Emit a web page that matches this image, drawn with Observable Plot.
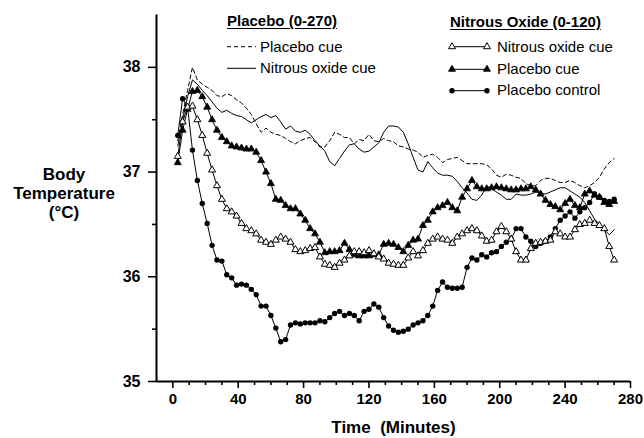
<!DOCTYPE html>
<html>
<head>
<meta charset="utf-8">
<script src="https://cdn.jsdelivr.net/npm/d3@7"></script>
<script src="https://cdn.jsdelivr.net/npm/@observablehq/plot@0.6"></script>
<style>
  html, body { margin: 0; padding: 0; background: #fff; }
  #wrap { position: relative; width: 644px; height: 438px; font-family: "Liberation Sans", Arial, Helvetica, sans-serif; color: #000; overflow: hidden; }
  #chart svg { display: block; }
  #chart g[aria-label="x-axis label"] text { font-size: 17px; white-space: pre; }
  .abs { position: absolute; white-space: nowrap; }
  .ylab { left: 4px; top: 164.6px; width: 120px; text-align: center; font-weight: bold; font-size: 17px; line-height: 19px; }
  .ttl { font-weight: bold; font-size: 15px; line-height: 18px; text-decoration: underline; text-underline-offset: 2px; }
  .ent { font-size: 15px; line-height: 18px; }
  #legsym { position: absolute; left: 0; top: 0; pointer-events: none; }
</style>
</head>
<body>
<div id="wrap">
  <div id="chart"></div>
  <div class="abs ylab">Body<br>Temperature<br>(°C)</div>
  <div class="abs ttl" style="left:227px;top:11.8px;">Placebo (0-270)</div>
  <div class="abs ent" style="left:260px;top:37.5px;">Placebo cue</div>
  <div class="abs ent" style="left:260px;top:58.8px;">Nitrous oxide cue</div>
  <div class="abs ttl" style="left:450px;top:12.5px;">Nitrous Oxide (0-120)</div>
  <div class="abs ent" style="left:497px;top:37.5px;">Nitrous oxide cue</div>
  <div class="abs ent" style="left:497px;top:59.8px;">Placebo cue</div>
  <div class="abs ent" style="left:497px;top:80.8px;">Placebo control</div>
  <svg id="legsym" width="644" height="438"></svg>
</div>
<script>
// ---- Data ----
const times = [3,6,9,12,15,18,21,24,27,30,33,36,39,42,45,48,51,54,57,60,63,66,69,72,75,78,81,84,87,90,93,96,99,102,105,108,111,114,117,120,123,126,129,132,135,138,141,144,147,150,153,156,159,162,165,168,171,174,177,180,183,186,189,192,195,198,201,204,207,210,213,216,219,222,225,228,231,234,237,240,243,246,249,252,255,258,261,264,267,270];

// Placebo (0-270): placebo cue (dashed line)
const placeboPlaceboCue = [
  37.30,37.55,37.78,38.00,37.88,37.84,37.81,37.78,37.73,37.72,
  37.75,37.73,37.69,37.66,37.61,37.55,37.46,37.38,37.42,37.38,
  37.36,37.35,37.32,37.29,37.27,37.30,37.32,37.33,37.29,37.24,
  37.24,37.30,37.38,37.36,37.33,37.33,37.27,37.31,37.30,37.36,
  37.30,37.29,37.32,37.30,37.29,37.25,37.24,37.22,37.21,37.19,
  37.14,37.16,37.17,37.14,37.09,37.12,37.13,37.14,37.11,37.08,
  37.08,37.08,37.08,37.07,37.03,36.97,36.95,36.98,36.97,36.95,
  36.94,36.89,36.87,36.87,36.92,36.94,36.94,36.92,36.90,36.90,
  36.92,36.90,36.87,36.85,36.87,36.90,36.95,37.03,37.09,37.13];

// Placebo (0-270): nitrous oxide cue (solid line)
const placeboNitrousCue = [
  37.25,37.50,37.72,37.88,37.84,37.78,37.73,37.67,37.61,37.57,
  37.59,37.56,37.54,37.53,37.50,37.47,37.50,37.53,37.55,37.52,
  37.54,37.48,37.41,37.44,37.39,37.38,37.40,37.36,37.30,37.25,
  37.20,37.10,37.06,37.13,37.20,37.26,37.27,37.22,37.19,37.20,
  37.24,37.28,37.38,37.44,37.44,37.43,37.38,37.27,37.14,37.02,
  37.00,37.10,37.04,36.99,36.97,36.97,36.96,36.91,36.85,36.80,
  36.74,36.73,36.78,36.87,36.84,36.81,36.78,36.74,36.74,36.79,
  36.78,36.78,36.79,36.81,36.80,36.79,36.81,36.83,36.85,36.85,
  36.82,36.79,36.76,36.71,36.63,36.55,36.50,36.45,36.40,36.45];

// Nitrous Oxide (0-120): nitrous oxide cue (open triangles)
const n2oNitrousCue = [
  37.15,37.48,37.62,37.63,37.50,37.35,37.18,37.02,36.87,36.74,
  36.65,36.62,36.58,36.51,36.46,36.44,36.41,36.35,36.33,36.31,
  36.35,36.38,36.36,36.33,36.26,36.24,36.25,36.27,36.28,36.19,
  36.12,36.11,36.09,36.13,36.16,36.20,36.24,36.24,36.23,36.25,
  36.22,36.19,36.17,36.13,36.12,36.11,36.11,36.18,36.24,36.20,
  36.25,36.32,36.36,36.38,36.36,36.35,36.32,36.38,36.41,36.44,
  36.46,36.44,36.39,36.34,36.35,36.43,36.48,36.43,36.36,36.24,
  36.16,36.16,36.27,36.32,36.33,36.34,36.35,36.43,36.41,36.38,
  36.38,36.45,36.50,36.51,36.54,36.51,36.49,36.46,36.29,36.16];

// Nitrous Oxide (0-120): placebo cue (filled triangles)
const n2oPlaceboCue = [
  37.09,37.40,37.60,37.77,37.78,37.72,37.62,37.50,37.40,37.33,
  37.29,37.25,37.24,37.23,37.22,37.22,37.19,37.11,37.00,36.89,
  36.74,36.73,36.68,36.65,36.65,36.60,36.54,36.46,36.41,36.33,
  36.23,36.24,36.24,36.25,36.32,36.26,36.21,36.20,36.20,36.20,
  36.21,36.21,36.31,36.32,36.31,36.28,36.24,36.30,36.35,36.36,
  36.49,36.54,36.62,36.66,36.68,36.71,36.66,36.63,36.76,36.84,
  36.92,36.86,36.84,36.84,36.85,36.86,36.85,36.84,36.83,36.83,
  36.84,36.84,36.86,36.83,36.79,36.73,36.69,36.67,36.64,36.70,
  36.74,36.68,36.66,36.79,36.82,36.78,36.76,36.71,36.69,36.72];

// Nitrous Oxide (0-120): placebo control (filled circles)
const n2oPlaceboControl = [
  37.35,37.70,37.62,37.21,36.92,36.70,36.51,36.30,36.16,36.15,
  36.02,35.99,35.92,35.93,35.92,35.88,35.83,35.72,35.72,35.63,
  35.51,35.38,35.40,35.54,35.56,35.55,35.56,35.56,35.56,35.58,
  35.57,35.61,35.65,35.67,35.63,35.65,35.63,35.58,35.67,35.69,
  35.74,35.71,35.61,35.53,35.49,35.47,35.48,35.50,35.54,35.56,
  35.58,35.63,35.72,35.87,35.95,35.90,35.89,35.89,35.90,36.09,
  36.18,36.16,36.21,36.19,36.23,36.24,36.29,36.33,36.36,36.46,
  36.46,36.38,36.34,36.29,36.32,36.34,36.38,36.46,36.54,36.58,
  36.62,36.56,36.62,36.66,36.71,36.79,36.76,36.73,36.72,36.74];

const xDomain = [-10, 280];
const yDomain = [35, 38.5];
const xTicks = [0, 40, 80, 120, 160, 200, 240, 280];
const xMinorTicks = [10,20,30,50,60,70,90,100,110,130,140,150,170,180,190,210,220,230,250,260,270];
const yTicks = [35, 36, 37, 38];
const yMinorTicks = [35.5, 36.5, 37.5];

// ---- Build rows ----
const rows = (vals) => times.map((t, i) => ({t, v: vals[i]}));
const dashedRows = rows(placeboPlaceboCue);
const solidRows = rows(placeboNitrousCue);
const openTriRows = rows(n2oNitrousCue);
const fillTriRows = rows(n2oPlaceboCue);
const circleRows = rows(n2oPlaceboControl);

const chart = Plot.plot({
  width: 644,
  height: 438,
  marginLeft: 156,
  marginRight: 14,
  marginTop: 14.5,
  marginBottom: 57,
  style: {
    fontFamily: "'Liberation Sans', Arial, Helvetica, sans-serif",
    fontSize: "16px",
    fontWeight: "bold",
    background: "white",
    color: "black",
    overflow: "visible"
  },
  x: {domain: xDomain},
  y: {domain: yDomain},
  marks: [
    Plot.axisY({ticks: yTicks, tickSize: 8, tickPadding: 8, strokeWidth: 1.6, tickFormat: d => String(d), label: null}),
    Plot.axisY({ticks: yMinorTicks, tickSize: 4, strokeWidth: 1.6, tickFormat: () => "", label: null}),
    Plot.axisX({ticks: xTicks, tickSize: 7, tickPadding: 5, strokeWidth: 1.6, fontSize: 15, tickFormat: d => String(d),
      label: "Time  (Minutes)", labelAnchor: "center", labelArrow: "none", labelOffset: 51}),
    Plot.axisX({ticks: xMinorTicks, tickSize: 4, strokeWidth: 1.6, tickFormat: () => "", label: null}),
    Plot.ruleY([yDomain[0]], {stroke: "black", strokeWidth: 2}),
    Plot.ruleX([xDomain[0]], {stroke: "black", strokeWidth: 2}),
    Plot.line(dashedRows, {x: "t", y: "v", stroke: "black", strokeWidth: 1, strokeDasharray: "4,3"}),
    Plot.line(solidRows, {x: "t", y: "v", stroke: "black", strokeWidth: 1}),
    Plot.line(circleRows, {x: "t", y: "v", stroke: "black", strokeWidth: 1}),
    Plot.line(fillTriRows, {x: "t", y: "v", stroke: "black", strokeWidth: 1}),
    Plot.line(openTriRows, {x: "t", y: "v", stroke: "black", strokeWidth: 1}),
    Plot.dot(circleRows, {x: "t", y: "v", r: 2.7, fill: "black", stroke: "none"}),
    Plot.dot(fillTriRows, {x: "t", y: "v", symbol: "triangle", r: 2.6, fill: "black", stroke: "black", strokeWidth: 0.8}),
    Plot.dot(openTriRows, {x: "t", y: "v", symbol: "triangle", r: 2.6, fill: "white", stroke: "black", strokeWidth: 1})
  ]
});
document.getElementById("chart").appendChild(chart);

// ---- Legend symbols ----
const leg = d3.select("#legsym");
function tri(x, y, filled) {
  const s = d3.symbol(d3.symbolTriangle, Math.PI * 2.6 * 2.6)();
  leg.append("path").attr("d", s).attr("transform", `translate(${x},${y})`)
    .attr("fill", filled ? "black" : "white").attr("stroke", "black").attr("stroke-width", filled ? 0.8 : 1);
}
function seg(x1, x2, y, dash) {
  const l = leg.append("line").attr("x1", x1).attr("x2", x2).attr("y1", y).attr("y2", y)
    .attr("stroke", "black").attr("stroke-width", 1);
  if (dash) l.attr("stroke-dasharray", dash);
}
seg(227, 256, 46.7, "4,3");
seg(227, 256, 68.3, null);
seg(452, 487, 46.7, null); tri(452, 46.7, false); tri(487, 46.7, false);
seg(452, 487, 69.3, null); tri(452, 69.3, true); tri(487, 69.3, true);
seg(452, 487, 90.7, null);
leg.append("circle").attr("cx", 452).attr("cy", 90.7).attr("r", 2.7).attr("fill", "black");
leg.append("circle").attr("cx", 487).attr("cy", 90.7).attr("r", 2.7).attr("fill", "black");
</script>
</body>
</html>
